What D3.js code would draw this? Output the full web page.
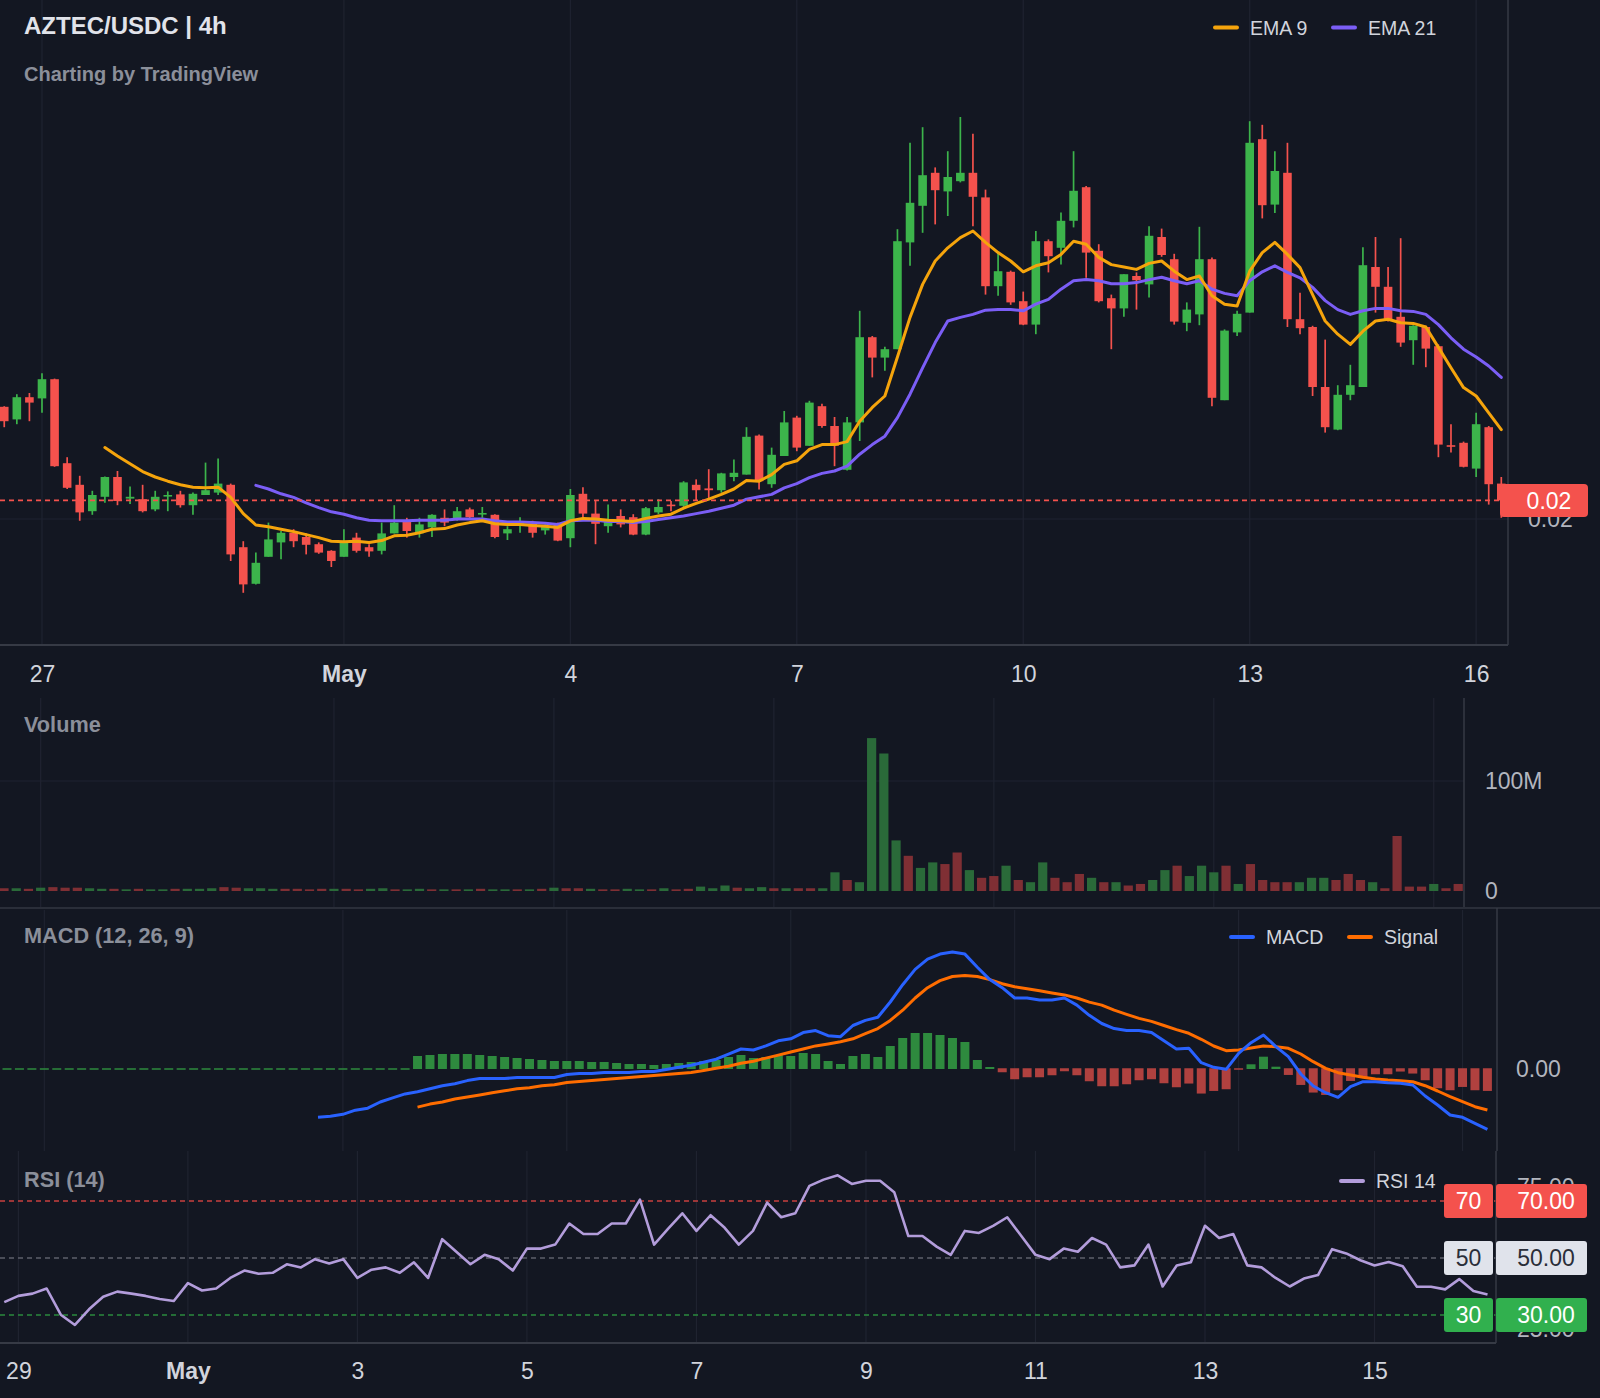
<!DOCTYPE html>
<html><head><meta charset="utf-8">
<script src="https://cdn.jsdelivr.net/npm/d3@7"></script>
<style>html,body{margin:0;padding:0;background:#131722;}svg{display:block;}</style>
</head><body>
<svg id="chart" width="1600" height="1398"></svg>
<script>
// ---------------- DATA ----------------
const openP = [0.02187,0.02166,0.02203,0.02201,0.02233,0.02093,0.02057,0.02013,0.02037,0.02070,
0.02034,0.02033,0.02016,0.02038,0.02041,0.02023,0.02040,0.02044,0.02057,0.01953,
0.01892,0.01937,0.01961,0.01977,0.01970,0.01958,0.01947,0.01937,0.01969,0.01953,
0.01947,0.01976,0.01998,0.01976,0.01986,0.02002,0.02000,0.02016,0.02008,0.02007,
0.01976,0.01991,0.01992,0.01981,0.01991,0.01968,0.02042,0.02009,0.01988,0.02005,
0.02003,0.01974,0.02011,0.02024,0.02022,0.02057,0.02051,0.02048,0.02070,0.02074,
0.02139,0.02058,0.02105,0.02169,0.02122,0.02188,0.02155,0.02082,0.02161,0.02303,
0.02269,0.02283,0.02461,0.02522,0.02577,0.02546,0.02563,0.02577,0.02536,0.02388,
0.02412,0.02363,0.02324,0.02463,0.02452,0.02497,0.02553,0.02447,0.02368,0.02351,
0.02405,0.02391,0.02470,0.02433,0.02327,0.02341,0.02433,0.02198,0.02311,0.02344,
0.02633,0.02524,0.02577,0.02333,0.02320,0.02220,0.02149,0.02207,0.02220,0.02420,
0.02387,0.02337,0.02298,0.02320,0.02288,0.02123,0.02127,0.02084,0.02153,0.02059];
const highP = [0.02188,0.02208,0.02210,0.02243,0.02234,0.02103,0.02072,0.02047,0.02071,0.02080,
0.02054,0.02057,0.02047,0.02046,0.02047,0.02044,0.02094,0.02101,0.02059,0.01963,
0.01944,0.01994,0.01980,0.01983,0.01976,0.01961,0.01948,0.01983,0.01977,0.01958,
0.01994,0.02023,0.02002,0.02002,0.02008,0.02016,0.02020,0.02019,0.02020,0.02008,
0.01988,0.02003,0.01997,0.01991,0.01994,0.02050,0.02053,0.02031,0.02024,0.02016,
0.02008,0.02020,0.02033,0.02030,0.02063,0.02066,0.02083,0.02077,0.02099,0.02153,
0.02141,0.02119,0.02180,0.02172,0.02197,0.02192,0.02170,0.02170,0.02347,0.02305,
0.02287,0.02483,0.02627,0.02653,0.02586,0.02613,0.02670,0.02642,0.02549,0.02444,
0.02414,0.02379,0.02480,0.02466,0.02511,0.02613,0.02555,0.02458,0.02374,0.02408,
0.02411,0.02488,0.02484,0.02442,0.02361,0.02487,0.02436,0.02316,0.02347,0.02663,
0.02657,0.02613,0.02627,0.02377,0.02322,0.02299,0.02223,0.02257,0.02453,0.02470,
0.02420,0.02468,0.02323,0.02322,0.02291,0.02158,0.02129,0.02177,0.02155,0.02070];
const lowP = [0.02153,0.02158,0.02163,0.02177,0.02087,0.02050,0.01997,0.02007,0.02027,0.02023,
0.02025,0.02011,0.02013,0.02013,0.02019,0.02007,0.02040,0.02040,0.01930,0.01877,
0.01891,0.01937,0.01933,0.01953,0.01941,0.01942,0.01920,0.01937,0.01944,0.01937,
0.01941,0.01976,0.01969,0.01969,0.01970,0.01988,0.01997,0.02000,0.02002,0.01968,
0.01965,0.01977,0.01969,0.01974,0.01963,0.01953,0.02003,0.01958,0.01977,0.01986,
0.01973,0.01973,0.02008,0.02013,0.02019,0.02030,0.02033,0.02044,0.02063,0.02074,
0.02049,0.02052,0.02105,0.02113,0.02122,0.02152,0.02088,0.02081,0.02130,0.02236,
0.02247,0.02283,0.02422,0.02477,0.02491,0.02505,0.02561,0.02488,0.02374,0.02372,
0.02357,0.02323,0.02308,0.02411,0.02424,0.02486,0.02402,0.02361,0.02283,0.02337,
0.02349,0.02369,0.02437,0.02324,0.02313,0.02323,0.02188,0.02198,0.02305,0.02344,
0.02501,0.02510,0.02320,0.02308,0.02205,0.02144,0.02148,0.02198,0.02220,0.02344,
0.02329,0.02287,0.02257,0.02253,0.02103,0.02111,0.02086,0.02070,0.02024,0.02002];
const closeP = [0.02163,0.02203,0.02194,0.02233,0.02088,0.02052,0.02011,0.02040,0.02070,0.02030,
0.02037,0.02013,0.02037,0.02040,0.02023,0.02042,0.02048,0.02059,0.01941,0.01891,
0.01927,0.01966,0.01977,0.01963,0.01957,0.01944,0.01930,0.01961,0.01947,0.01946,
0.01976,0.01994,0.01980,0.01991,0.02007,0.01994,0.02013,0.02003,0.02010,0.01970,
0.01983,0.01993,0.01977,0.01987,0.01964,0.02040,0.02009,0.01992,0.01996,0.01991,
0.01974,0.02018,0.02020,0.02022,0.02061,0.02048,0.02048,0.02076,0.02077,0.02137,
0.02063,0.02107,0.02161,0.02119,0.02194,0.02155,0.02122,0.02161,0.02303,0.02269,
0.02283,0.02463,0.02527,0.02573,0.02548,0.02570,0.02577,0.02537,0.02388,0.02413,
0.02361,0.02324,0.02463,0.02438,0.02497,0.02547,0.02444,0.02363,0.02351,0.02408,
0.02398,0.02472,0.02440,0.02329,0.02349,0.02433,0.02202,0.02314,0.02342,0.02627,
0.02523,0.02580,0.02333,0.02318,0.02220,0.02153,0.02207,0.02223,0.02423,0.02387,
0.02331,0.02294,0.02322,0.02284,0.02124,0.02121,0.02087,0.02158,0.02058,0.02031];
const ema9 = [null,null,null,null,null,null,null,null,0.02119,0.02105,
0.02092,0.02079,0.02070,0.02063,0.02057,0.02053,0.02052,0.02053,0.02036,0.02009,
0.01990,0.01987,0.01983,0.01979,0.01974,0.01969,0.01963,0.01962,0.01963,0.01961,
0.01964,0.01972,0.01973,0.01977,0.01983,0.01984,0.01990,0.01994,0.01997,0.01992,
0.01991,0.01991,0.01989,0.01988,0.01986,0.01997,0.02001,0.02000,0.01998,0.01997,
0.01996,0.02001,0.02005,0.02008,0.02018,0.02026,0.02033,0.02041,0.02050,0.02064,
0.02063,0.02074,0.02091,0.02097,0.02116,0.02124,0.02124,0.02129,0.02163,0.02186,
0.02205,0.02270,0.02336,0.02391,0.02430,0.02452,0.02469,0.02480,0.02461,0.02444,
0.02430,0.02412,0.02422,0.02427,0.02441,0.02463,0.02458,0.02436,0.02424,0.02420,
0.02416,0.02426,0.02430,0.02413,0.02399,0.02405,0.02372,0.02358,0.02355,0.02413,
0.02444,0.02461,0.02441,0.02419,0.02374,0.02330,0.02308,0.02291,0.02313,0.02330,
0.02333,0.02327,0.02326,0.02320,0.02286,0.02252,0.02219,0.02205,0.02177,0.02149];
const ema21 = [null,null,null,null,null,null,null,null,null,null,
null,null,null,null,null,null,null,null,null,null,
0.02056,0.02050,0.02042,0.02036,0.02027,0.02019,0.02012,0.02008,0.02002,0.01998,
0.01997,0.01997,0.01997,0.01998,0.01998,0.01998,0.02000,0.02000,0.02000,0.01997,
0.01995,0.01995,0.01994,0.01993,0.01991,0.01997,0.01998,0.01998,0.01996,0.01996,
0.01994,0.01996,0.01999,0.02002,0.02005,0.02009,0.02013,0.02018,0.02023,0.02033,
0.02037,0.02041,0.02052,0.02059,0.02069,0.02076,0.02080,0.02088,0.02108,0.02124,
0.02138,0.02169,0.02208,0.02252,0.02294,0.02330,0.02336,0.02341,0.02348,0.02349,
0.02349,0.02347,0.02358,0.02366,0.02383,0.02397,0.02399,0.02397,0.02392,0.02392,
0.02394,0.02399,0.02403,0.02397,0.02392,0.02397,0.02383,0.02376,0.02372,0.02397,
0.02412,0.02422,0.02411,0.02402,0.02386,0.02364,0.02349,0.02341,0.02347,0.02351,
0.02351,0.02347,0.02346,0.02341,0.02324,0.02302,0.02283,0.02270,0.02255,0.02236];
const volume = [2.5e6,2.5e6,2e6,3e6,3.5e6,3e6,3e6,2.5e6,2e6,2e6,
1.5e6,2e6,1.5e6,1.5e6,2e6,2e6,2e6,2.5e6,3.5e6,3e6,
2.5e6,2.5e6,2e6,2e6,2e6,1.5e6,2e6,2e6,2e6,1.5e6,
2e6,2.5e6,1.5e6,1.5e6,2e6,1.5e6,1.5e6,1.5e6,1.5e6,2e6,
1.5e6,1.5e6,1.5e6,1.5e6,2e6,3e6,2.5e6,2.5e6,2e6,1.5e6,
1.5e6,2e6,1.5e6,1.5e6,2.5e6,1.5e6,2e6,4e6,2.5e6,5e6,
3e6,2.5e6,3.5e6,2.5e6,2.5e6,2.5e6,2.5e6,2.5e6,17e6,10e6,
8e6,139e6,125e6,46e6,32e6,21e6,26e6,24.5e6,35e6,19e6,
12e6,13.6e6,23e6,10e6,8e6,26e6,12e6,8e6,15.5e6,12e6,
8e6,8e6,5e6,6.4e6,10e6,19e6,23e6,13.6e6,23e6,17e6,
23e6,6.4e6,24.5e6,10e6,8e6,8e6,8e6,12e6,12e6,10e6,
15.5e6,10e6,8e6,2.5e6,50e6,4e6,4e6,6.4e6,2.5e6,6.4e6];
const macdLine = [null,null,null,null,null,null,null,null,null,null,
null,null,null,null,null,null,null,null,null,null,
null,null,null,null,null,-48.3e-5,-47.3e-5,-45.3e-5,-41.2e-5,-39.2e-5,
-33.0e-5,-28.9e-5,-24.9e-5,-22.8e-5,-19.8e-5,-16.7e-5,-14.7e-5,-11.6e-5,-9.6e-5,-9.6e-5,
-9.6e-5,-8.5e-5,-8.5e-5,-8.5e-5,-8.5e-5,-5.5e-5,-4.5e-5,-4.5e-5,-3.4e-5,-3.4e-5,
-3.4e-5,-2.4e-5,-2.4e-5,-0.4e-5,1.7e-5,3.7e-5,6.8e-5,9.8e-5,14.9e-5,20.0e-5,
19.0e-5,23.1e-5,28.2e-5,30.2e-5,36.4e-5,38.4e-5,33.3e-5,32.3e-5,43.5e-5,48.6e-5,
51.7e-5,67.0e-5,84.3e-5,99.6e-5,109.8e-5,114.9e-5,117.0e-5,114.9e-5,101.7e-5,89.4e-5,
81.3e-5,71.0e-5,71.0e-5,69.0e-5,69.0e-5,71.0e-5,63.9e-5,53.7e-5,45.5e-5,40.4e-5,
38.4e-5,38.4e-5,36.4e-5,28.2e-5,20.0e-5,20.7e-5,6.3e-5,1.7e-5,-0.3e-5,15.7e-5,
26.3e-5,34.0e-5,22.3e-5,12.3e-5,-5.0e-5,-17.0e-5,-23.7e-5,-28.3e-5,-17.7e-5,-12.7e-5,
-12.7e-5,-13.7e-5,-14.3e-5,-16.0e-5,-27.0e-5,-36.0e-5,-46.0e-5,-48.3e-5,-54.3e-5,-60.3e-5];
const signalLine = [null,null,null,null,null,null,null,null,null,null,
null,null,null,null,null,null,null,null,null,null,
null,null,null,null,null,null,null,null,null,null,
null,null,null,-38.1e-5,-35.1e-5,-33.0e-5,-30.0e-5,-27.9e-5,-25.9e-5,-23.8e-5,
-21.8e-5,-19.8e-5,-18.7e-5,-16.7e-5,-15.7e-5,-13.6e-5,-12.6e-5,-11.6e-5,-10.6e-5,-9.6e-5,
-8.5e-5,-7.5e-5,-6.5e-5,-5.5e-5,-4.5e-5,-3.4e-5,-1.4e-5,0.7e-5,2.7e-5,5.8e-5,
7.8e-5,10.9e-5,13.9e-5,17.0e-5,20.0e-5,23.1e-5,25.1e-5,27.2e-5,30.2e-5,35.3e-5,
40.4e-5,48.6e-5,58.8e-5,71.0e-5,81.3e-5,88.4e-5,92.5e-5,93.5e-5,92.5e-5,89.4e-5,
85.3e-5,82.3e-5,80.2e-5,78.2e-5,76.1e-5,74.1e-5,71.0e-5,66.9e-5,63.9e-5,58.8e-5,
54.7e-5,50.6e-5,47.6e-5,43.5e-5,39.4e-5,35.7e-5,29.7e-5,23.0e-5,18.3e-5,19.0e-5,
21.0e-5,23.0e-5,22.3e-5,20.7e-5,15.0e-5,7.3e-5,0.7e-5,-3.7e-5,-6.0e-5,-8.3e-5,
-10.0e-5,-11.0e-5,-11.7e-5,-12.7e-5,-16.7e-5,-22.0e-5,-27.7e-5,-32.7e-5,-37.7e-5,-41.0e-5];
const macdHist = [0,0,0,0,0,0,0,0,0,0,
0,0,0,0,0,0,0,0,0,0,
0,0,0,0,0,0,0,0,0,0,
0,0,0,13e-5,14e-5,15e-5,15e-5,15e-5,14e-5,13e-5,
12e-5,11e-5,10e-5,9e-5,8e-5,8e-5,8e-5,7e-5,7e-5,6e-5,
5e-5,5e-5,4e-5,5e-5,6e-5,7e-5,8e-5,9e-5,12e-5,14e-5,
11e-5,12e-5,14e-5,13e-5,16e-5,15e-5,8e-5,5e-5,13e-5,15e-5,
12e-5,23e-5,31e-5,36e-5,36e-5,34e-5,31e-5,27e-5,9e-5,2e-5,
-4e-5,-11e-5,-9e-5,-9e-5,-7e-5,-3e-5,-7e-5,-13e-5,-18e-5,-18e-5,
-16e-5,-12e-5,-11e-5,-15e-5,-19e-5,-15.3e-5,-25.3e-5,-22.7e-5,-21e-5,-1.3e-5,
4.7e-5,12.3e-5,2.3e-5,-6.7e-5,-16.7e-5,-24.3e-5,-26.7e-5,-22e-5,-12.7e-5,-9.3e-5,
-6e-5,-6e-5,-3.3e-5,-5.3e-5,-12e-5,-20e-5,-22e-5,-18.7e-5,-22e-5,-22.7e-5];
const rsi14 = [null,null,null,null,null,null,null,null,null,null,
null,null,null,null,34.5,36.7,37.5,39.3,30.1,26.5,
32.0,36.4,38.2,37.5,36.7,35.6,34.9,41.2,38.6,39.3,
43.0,45.6,44.5,44.8,47.8,46.7,49.6,48.1,49.6,43.0,
45.9,46.7,44.8,48.5,43.0,56.6,52.2,47.8,51.1,49.6,
45.6,53.3,53.3,54.7,62.1,58.4,58.4,62.1,62.1,70.5,
54.7,60.3,65.7,59.5,65.0,60.6,54.7,59.5,69.4,64.3,
65.7,75.3,77.5,79.0,76.0,77.1,77.1,73.1,57.7,57.7,
54.0,51.1,59.5,58.8,61.3,64.3,57.7,51.1,49.6,53.3,
52.2,57.0,54.7,46.7,47.4,54.7,40.0,47.4,48.5,61.3,
57.0,58.4,47.4,46.7,43.0,40.0,42.8,44.0,53.1,51.6,
49.2,47.4,48.6,47.1,39.9,39.9,39.0,42.6,38.4,37.2];

const priceTicks = [0.02];
const priceDayBars = [3,27,45,63,81,99,117];
const priceDayLabels = ["27","May","4","7","10","13","16"];
const rsiDayBars = [15,27,39,51,63,75,87,99,111];
const rsiDayLabels = ["29","May","3","5","7","9","11","13","15"];
const volumeTicks = [0,100e6];
const macdTicks = [0];
const rsiLevels = [70,50,30];
const rsiHiddenTicks = [75,25];

// ---------------- DRAWING ----------------
const FONT = "'Liberation Sans', Arial, Helvetica, sans-serif";
const BG="#131722", GRID="#1f2330", BORDER="#363a45", TXT="#d1d4dc", MUTED="#8b8f9a";
const UP="#3cb44b", DOWN="#f4524d";
const svg = d3.select("#chart").style("font-family", FONT);
svg.append("rect").attr("width",1600).attr("height",1398).attr("fill",BG);
const defs = svg.append("defs");
function clip(id,x,y,w,h){defs.append("clipPath").attr("id",id).append("rect").attr("x",x).attr("y",y).attr("width",w).attr("height",h);}
clip("cp",0,0,1508,645); clip("cv",0,695,1464,213); clip("cm",0,908,1497,243); clip("cr",0,1151,1496,192);

function vgrid(g, bars, xs, y1, y2){
  g.append("g").selectAll("line").data(bars).join("line")
   .attr("x1",d=>xs(d)).attr("x2",d=>xs(d)).attr("y1",y1).attr("y2",y2)
   .attr("stroke",GRID).attr("stroke-width",1.2);
}
function styleAxis(g, size, fill){
  g.select(".domain").remove();
  g.selectAll(".tick line").remove();
  g.selectAll("text").attr("fill",fill).style("font-size",size+"px").style("font-family",FONT);
}

// ===== Price panel =====
const xP = d3.scaleLinear().domain([0,119]).range([4.25,1501.3]);
const yP = d3.scaleLinear().domain([0.02,0.03]).range([519,-81]);
const gP = svg.append("g");
vgrid(gP, priceDayBars, xP, 0, 645);
gP.append("g").selectAll("line").data(priceTicks).join("line")
  .attr("x1",0).attr("x2",1508).attr("y1",d=>yP(d)).attr("y2",d=>yP(d)).attr("stroke",GRID).attr("stroke-width",1.2);
const plotP = gP.append("g").attr("clip-path","url(#cp)");
const idx = d3.range(openP.length);
const cg = plotP.append("g").selectAll("g").data(idx).join("g");
cg.append("line").attr("x1",i=>xP(i)).attr("x2",i=>xP(i))
  .attr("y1",i=>yP(highP[i])).attr("y2",i=>yP(lowP[i]))
  .attr("stroke",i=>closeP[i]>=openP[i]?UP:DOWN).attr("stroke-width",1.7);
cg.append("rect").attr("x",i=>xP(i)-4.3).attr("width",8.6)
  .attr("y",i=>yP(Math.max(openP[i],closeP[i])))
  .attr("height",i=>Math.max(1.6, Math.abs(yP(openP[i])-yP(closeP[i]))))
  .attr("fill",i=>closeP[i]>=openP[i]?UP:DOWN);
const lineP = d3.line().defined(d=>d!=null).x((d,i)=>xP(i)).y(d=>yP(d));
plotP.append("path").datum(ema21).attr("d",lineP).attr("fill","none").attr("stroke","#7b5ef6").attr("stroke-width",3).attr("stroke-linejoin","round").attr("stroke-linecap","round");
plotP.append("path").datum(ema9).attr("d",lineP).attr("fill","none").attr("stroke","#f5a40c").attr("stroke-width",3).attr("stroke-linejoin","round").attr("stroke-linecap","round");
const lastClose = closeP[closeP.length-1];
gP.append("line").attr("x1",0).attr("x2",1500).attr("y1",yP(lastClose)).attr("y2",yP(lastClose))
  .attr("stroke",DOWN).attr("stroke-width",1.6).attr("stroke-dasharray","5,4");
// borders
gP.append("line").attr("x1",1508).attr("x2",1508).attr("y1",0).attr("y2",645).attr("stroke",BORDER).attr("stroke-width",1.5);
gP.append("line").attr("x1",0).attr("x2",1508).attr("y1",645).attr("y2",645).attr("stroke",BORDER).attr("stroke-width",2);
// price axis
const axP = gP.append("g").attr("transform","translate(1508,0)")
  .call(d3.axisRight(yP).tickValues(priceTicks).tickFormat(d3.format(".2f")).tickSize(0).tickPadding(20));
styleAxis(axP, 23, "#b2b5be");
// last price label
gP.append("rect").attr("x",1500).attr("y",yP(lastClose)-16.5).attr("width",88).attr("height",33).attr("rx",4).attr("fill",DOWN);
gP.append("text").attr("x",1549).attr("y",yP(lastClose)).attr("dy","0.36em").attr("text-anchor","middle")
  .attr("fill","#ffffff").style("font-size","23px").text(d3.format(".2f")(lastClose));
// time axis
const axT = gP.append("g").attr("transform","translate(0,645)")
  .call(d3.axisBottom(xP).tickValues(priceDayBars).tickFormat((d,i)=>priceDayLabels[i]).tickSize(0));
styleAxis(axT, 23, TXT);
axT.selectAll("text").attr("y",29).attr("dy","0.36em").style("font-weight",(d,i)=>priceDayLabels[i]==="May"?"bold":"normal");
// title + legend
svg.append("text").attr("x",24).attr("y",34).attr("fill","#e1e3ea").style("font-size","24px").style("font-weight","bold").text("AZTEC/USDC | 4h");
svg.append("text").attr("x",24).attr("y",80.5).attr("fill",MUTED).style("font-size","20px").style("font-weight","bold").text("Charting by TradingView");
function legend(x, y, color, label){
  svg.append("line").attr("x1",x).attr("x2",x+22).attr("y1",y).attr("y2",y).attr("stroke",color).attr("stroke-width",4).attr("stroke-linecap","round");
  svg.append("text").attr("x",x+35).attr("y",y).attr("dy","0.36em").attr("fill",TXT).style("font-size","19.5px").text(label);
}
legend(1215,27.5,"#f5a40c","EMA 9");
legend(1333,27.5,"#7b5ef6","EMA 21");

// ===== Volume panel =====
const xV = d3.scaleLinear().domain([0,119]).range([4,1458.2]);
const yV = d3.scaleLinear().domain([0,100e6]).range([891,781]);
const gV = svg.append("g");
vgrid(gV, priceDayBars, xV, 698, 908);
gV.append("line").attr("x1",0).attr("x2",1464).attr("y1",yV(100e6)).attr("y2",yV(100e6)).attr("stroke",GRID).attr("stroke-width",1.2);
gV.append("g").attr("clip-path","url(#cv)").selectAll("rect").data(idx).join("rect")
  .attr("x",i=>xV(i)-4.6).attr("width",9.2)
  .attr("y",i=>Math.min(yV(volume[i]), yV(0)-1.5)).attr("height",i=>Math.max(1.5, yV(0)-yV(volume[i])))
  .attr("fill",i=>closeP[i]>=openP[i]?"#2a6a39":"#7f2f34");
gV.append("line").attr("x1",1464).attr("x2",1464).attr("y1",698).attr("y2",908).attr("stroke",BORDER).attr("stroke-width",1.5);
const axV = gV.append("g").attr("transform","translate(1464,0)")
  .call(d3.axisRight(yV).tickValues(volumeTicks).tickFormat(d=>d===0?"0":d3.format(".0f")(d/1e6)+"M").tickSize(0).tickPadding(21));
styleAxis(axV, 23, "#b2b5be");
svg.append("text").attr("x",24).attr("y",732).attr("fill",MUTED).style("font-size","21.7px").style("font-weight","bold").text("Volume");
svg.append("line").attr("x1",0).attr("x2",1600).attr("y1",908).attr("y2",908).attr("stroke","#2a2e39").attr("stroke-width",2);

// ===== MACD panel =====
const xM = d3.scaleLinear().domain([0,119]).range([7,1487.4]);
const yM = d3.scaleLinear().domain([0,0.001]).range([1069,969]);
const gM = svg.append("g");
vgrid(gM, priceDayBars, xM, 910, 1151);
const plotM = gM.append("g").attr("clip-path","url(#cm)");
plotM.append("g").selectAll("rect").data(idx).join("rect")
  .attr("x",i=>xM(i)-4.5).attr("width",9)
  .attr("y",i=>macdHist[i]>0?yM(macdHist[i]):yM(0)-0.75)
  .attr("height",i=>Math.max(1.5, Math.abs(yM(macdHist[i])-yM(0))))
  .attr("fill",i=>macdHist[i]>=0?"#2e8a3e":"#b0413f");
const lineM = d3.line().defined(d=>d!=null).x((d,i)=>xM(i)).y(d=>yM(d));
plotM.append("path").datum(signalLine).attr("d",lineM).attr("fill","none").attr("stroke","#ff6d00").attr("stroke-width",3).attr("stroke-linejoin","round");
plotM.append("path").datum(macdLine).attr("d",lineM).attr("fill","none").attr("stroke","#2962ff").attr("stroke-width",3).attr("stroke-linejoin","round");
gM.append("line").attr("x1",1497).attr("x2",1497).attr("y1",908).attr("y2",1151).attr("stroke",BORDER).attr("stroke-width",1.5);
const axM = gM.append("g").attr("transform","translate(1497,0)")
  .call(d3.axisRight(yM).tickValues(macdTicks).tickFormat(d3.format(".2f")).tickSize(0).tickPadding(19));
styleAxis(axM, 23, "#b2b5be");
svg.append("text").attr("x",24).attr("y",943).attr("fill",MUTED).style("font-size","21.7px").style("font-weight","bold").text("MACD (12, 26, 9)");
legend(1231,937,"#2962ff","MACD");
legend(1349,937,"#ff6d00","Signal");

// ===== RSI panel =====
const xR = d3.scaleLinear().domain([15,111]).range([18.4,1374.5]);
const yR = d3.scaleLinear().domain([30,70]).range([1315,1201]);
const gR = svg.append("g");
vgrid(gR, rsiDayBars, xR, 1151, 1343);
const levelColor = {70:"#c9403f",50:"#5d606b",30:"#2b8a3e"};
gR.append("g").selectAll("line").data(rsiLevels).join("line")
  .attr("x1",0).attr("x2",1496).attr("y1",d=>yR(d)).attr("y2",d=>yR(d))
  .attr("stroke",d=>levelColor[d]).attr("stroke-width",1.3).attr("stroke-dasharray","5,4");
const lineR = d3.line().defined(d=>d!=null).x((d,i)=>xR(i)).y(d=>yR(d));
gR.append("g").attr("clip-path","url(#cr)").append("path").datum(rsi14).attr("d",lineR)
  .attr("fill","none").attr("stroke","#b39ddb").attr("stroke-width",2.6).attr("stroke-linejoin","round");
gR.append("line").attr("x1",1496).attr("x2",1496).attr("y1",1151).attr("y2",1343).attr("stroke",BORDER).attr("stroke-width",1.5);
gR.append("line").attr("x1",0).attr("x2",1496).attr("y1",1343).attr("y2",1343).attr("stroke",BORDER).attr("stroke-width",2);
const axRh = gR.append("g").attr("transform","translate(1496,0)")
  .call(d3.axisRight(yR).tickValues(rsiHiddenTicks).tickFormat(d3.format(".2f")).tickSize(0).tickPadding(21));
styleAxis(axRh, 23, "#b2b5be");
const boxFill = {70:DOWN,50:"#e0e3eb",30:"#31b04e"};
const boxText = {70:"#ffffff",50:"#2a2e39",30:"#ffffff"};
const lv = gR.append("g").selectAll("g").data(rsiLevels).join("g");
lv.append("rect").attr("x",1444).attr("y",d=>yR(d)-17).attr("width",49).attr("height",34).attr("rx",3).attr("fill",d=>boxFill[d]);
lv.append("rect").attr("x",1496).attr("y",d=>yR(d)-17).attr("width",91).attr("height",34).attr("rx",3).attr("fill",d=>boxFill[d]);
lv.append("text").attr("x",1468.5).attr("y",d=>yR(d)).attr("dy","0.36em").attr("text-anchor","middle")
  .attr("fill",d=>boxText[d]).style("font-size","23px").text(d=>d3.format("d")(d));
lv.append("text").attr("x",1546).attr("y",d=>yR(d)).attr("dy","0.36em").attr("text-anchor","middle")
  .attr("fill",d=>boxText[d]).style("font-size","23px").text(d=>d3.format(".2f")(d));
const axR = gR.append("g").attr("transform","translate(0,1343)")
  .call(d3.axisBottom(xR).tickValues(rsiDayBars).tickFormat((d,i)=>rsiDayLabels[i]).tickSize(0));
styleAxis(axR, 23, TXT);
axR.selectAll("text").attr("y",28).attr("dy","0.36em").style("font-weight",(d,i)=>rsiDayLabels[i]==="May"?"bold":"normal");
svg.append("text").attr("x",24).attr("y",1187).attr("fill",MUTED).style("font-size","21.7px").style("font-weight","bold").text("RSI (14)");
legend(1341,1181,"#b39ddb","RSI 14");
</script>
</body></html>
